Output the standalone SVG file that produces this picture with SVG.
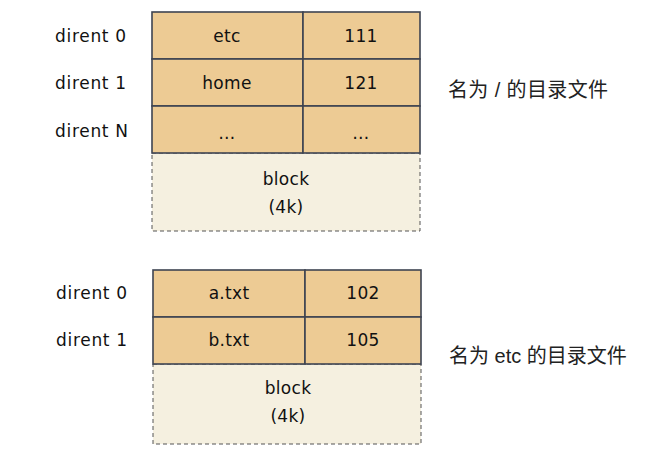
<svg xmlns="http://www.w3.org/2000/svg" width="655" height="457" viewBox="0 0 655 457">
<style>
.cell{fill:#EDCB94;stroke:#3E4452;stroke-width:1.6}
.blk{fill:#F5F0E0;stroke:#555;stroke-width:1;stroke-dasharray:4 3}
.t{font-family:"DejaVu Sans","Noto Sans",sans-serif;font-size:17px;fill:#111;text-anchor:middle;letter-spacing:0.3px}
.lbl{font-family:"DejaVu Sans","Noto Sans",sans-serif;font-size:17px;fill:#111;letter-spacing:0.7px}
.cn{font-family:"Liberation Sans","Noto Sans CJK SC",sans-serif;font-size:20px;fill:#222}
</style>
<rect width="655" height="457" fill="#fff"/>
<g id="dir-root">
  <rect class="blk" x="152" y="153" width="268" height="78"/>
  <rect class="cell" x="152" y="12" width="151" height="47"/>
  <rect class="cell" x="303" y="12" width="117" height="47"/>
  <rect class="cell" x="152" y="59" width="151" height="47"/>
  <rect class="cell" x="303" y="59" width="117" height="47"/>
  <rect class="cell" x="152" y="106" width="151" height="47"/>
  <rect class="cell" x="303" y="106" width="117" height="47"/>
  <text class="t" x="227" y="42">etc</text>
  <text class="t" x="361" y="42">111</text>
  <text class="t" x="227" y="89">home</text>
  <text class="t" x="361" y="89">121</text>
  <text class="t" x="227" y="139" font-size="10">…</text>
  <text class="t" x="361" y="139" font-size="10">…</text>
  <text class="t" x="286" y="185">block</text>
  <text class="t" x="286" y="213">(4k)</text>
  <text class="lbl" x="55" y="42">dirent 0</text>
  <text class="lbl" x="55" y="89">dirent 1</text>
  <text class="lbl" x="55" y="137">dirent N</text>
  <text class="cn" x="448" y="97" textLength="160" lengthAdjust="spacing">名为 / 的目录文件</text>
</g>
<g id="dir-etc">
  <rect class="blk" x="153" y="364" width="268" height="80"/>
  <rect class="cell" x="153" y="270" width="152" height="47"/>
  <rect class="cell" x="305" y="270" width="116" height="47"/>
  <rect class="cell" x="153" y="317" width="152" height="47"/>
  <rect class="cell" x="305" y="317" width="116" height="47"/>
  <text class="t" x="229" y="299">a.txt</text>
  <text class="t" x="363" y="299">102</text>
  <text class="t" x="229" y="346">b.txt</text>
  <text class="t" x="363" y="346">105</text>
  <text class="t" x="288" y="394">block</text>
  <text class="t" x="288" y="422">(4k)</text>
  <text class="lbl" x="56" y="299">dirent 0</text>
  <text class="lbl" x="56" y="346">dirent 1</text>
  <text class="cn" x="449" y="363">名为 etc 的目录文件</text>
</g>
<g id="connectors"></g>
</svg>
